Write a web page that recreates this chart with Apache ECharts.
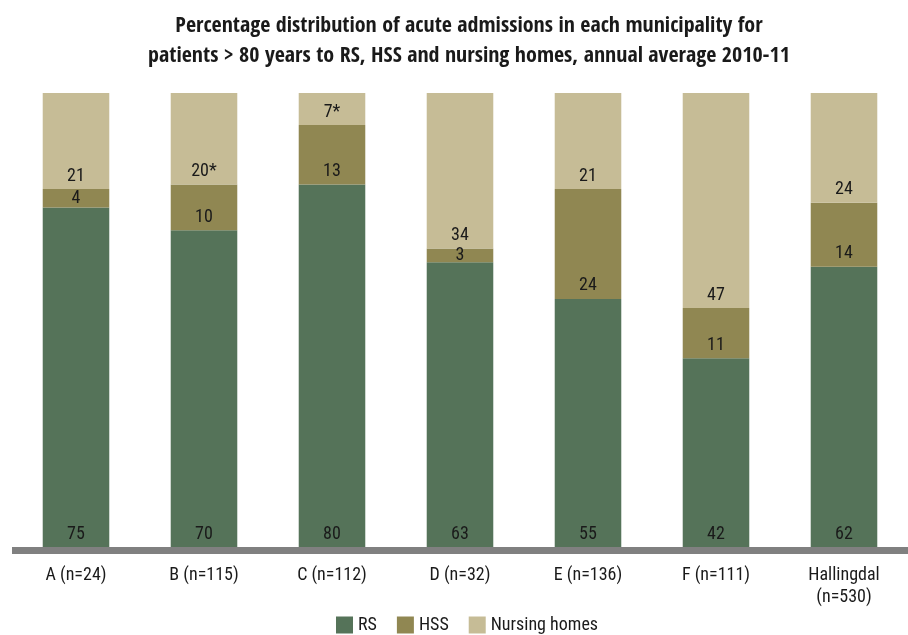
<!DOCTYPE html>
<html><head><meta charset="utf-8">
<script src="https://cdn.jsdelivr.net/npm/echarts@6/dist/echarts.min.js"></script>
<style>html,body{margin:0;padding:0;background:#fff}#c{width:908px;height:635px}</style>
</head><body><div id="c"></div>
<script>
const categories = ['A (n=24)', 'B (n=115)', 'C (n=112)', 'D (n=32)', 'E (n=136)', 'F (n=111)', 'Hallingdal\n(n=530)'];
const rsValues = [75, 70, 80, 63, 55, 42, 62];
const hssValues = [4, 10, 13, 3, 24, 11, 14];
const nursingValues = [21, 20, 7, 34, 21, 47, 24];
const nursingNotes = ['', '*', '*', '', '', '', ''];
const titleText = 'Percentage distribution of acute admissions in each municipality for\npatients > 80 years to RS, HSS and nursing homes, annual average 2010-11';

const FONT = '"Roboto Condensed", "DejaVu Sans Condensed", sans-serif';
const TFONT = '"Open Sans Condensed", "Roboto Condensed", sans-serif';
const chart = echarts.init(document.getElementById('c'), null, {renderer: 'canvas'});

const lbl = (dist) => ({show: true, position: 'insideBottom', distance: dist, color: '#1a1a1a', fontFamily: FONT, fontSize: 18});

chart.setOption({
  animation: false,
  title: {
    text: titleText, left: 464, textAlign: 'center', top: 6,
    textStyle: {fontFamily: TFONT, fontWeight: 'bold', fontSize: 22, lineHeight: 30, color: '#1a1a1a'}
  },
  legend: {
    top: 611, left: 331, itemWidth: 17, itemHeight: 17, itemGap: 20,
    icon: 'rect',
    textStyle: {fontFamily: FONT, fontSize: 18, color: '#1a1a1a'},
    data: ['RS', 'HSS', 'Nursing homes']
  },
  grid: {left: 12, width: 906, top: 93, bottom: 84.5},
  xAxis: {
    type: 'category', data: categories, z: 10,
    axisLine: {lineStyle: {color: '#808080', width: 7, cap: 'butt'}},
    axisTick: {show: false},
    axisLabel: {fontFamily: FONT, fontSize: 18, color: '#1a1a1a', margin: 14, lineHeight: 22, verticalAlign: 'top'}
  },
  yAxis: {type: 'value', min: 0, max: 100, show: false, splitLine: {show: false}},
  series: [
    {name: 'RS', type: 'bar', stack: 's', barWidth: '52%', itemStyle: {color: '#557359'},
     label: lbl(7), data: rsValues},
    {name: 'HSS', type: 'bar', stack: 's', itemStyle: {color: '#908752'},
     label: lbl(4),
     data: hssValues.map(v => v < 5 ? {value: v, label: {position: 'inside'}} : v)},
    {name: 'Nursing homes', type: 'bar', stack: 's', itemStyle: {color: '#C6BC96'},
     label: Object.assign(lbl(4), {formatter: p => p.value + nursingNotes[p.dataIndex]}),
     data: nursingValues}
  ]
});
</script></body></html>
